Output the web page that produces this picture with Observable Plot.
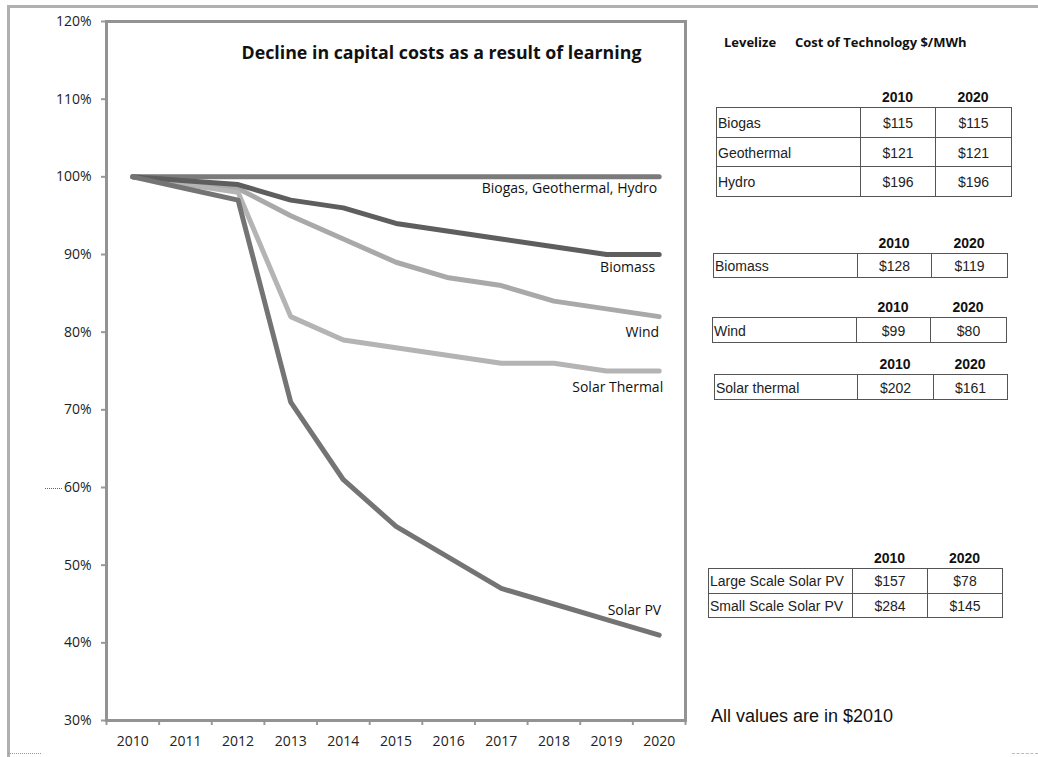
<!DOCTYPE html>
<html><head><meta charset="utf-8">
<script src="https://cdn.jsdelivr.net/npm/d3@7"></script>
<script src="https://cdn.jsdelivr.net/npm/@observablehq/plot@0.6"></script>
<style>
body{margin:0;background:#fff;}
#wrap{position:relative;width:1038px;height:757px;overflow:hidden;font-family:"Liberation Sans",Arial,sans-serif;color:#111;}
#wrap svg{position:absolute;left:0;top:0;}
.cell{position:absolute;box-sizing:border-box;border:1px solid #555;font-size:14px;white-space:nowrap;overflow:hidden;color:#222;}
.hdr{position:absolute;font-weight:bold;font-size:14px;text-align:center;color:#111;}
.deco{position:absolute;}
</style></head><body><div id="wrap"></div>
<script>
// ---- chart data ----
const years = [2010, 2011, 2012, 2013, 2014, 2015, 2016, 2017, 2018, 2019, 2020];
const seriesNames = ["Biogas, Geothermal, Hydro", "Wind", "Solar Thermal", "Biomass", "Solar PV"];
const biogasGeothermalHydro = [100, 100, 100, 100, 100, 100, 100, 100, 100, 100, 100];
const wind = [100, 99.3, 98.5, 95, 92, 89, 87, 86, 84, 83, 82];
const solarThermal = [100, 99, 98, 82, 79, 78, 77, 76, 76, 75, 75];
const biomass = [100, 99.5, 99, 97, 96, 94, 93, 92, 91, 90, 90];
const solarPV = [100, 98.5, 97, 71, 61, 55, 51, 47, 45, 43, 41];
const yTicks = [30, 40, 50, 60, 70, 80, 90, 100, 110, 120];
const chartTitle = "Decline in capital costs as a result of learning";

// ---- table data ----
const tableYears = ["2010", "2020"];
const techNames = ["Biogas", "Geothermal", "Hydro", "Biomass", "Wind", "Solar thermal", "Large Scale Solar PV", "Small Scale Solar PV"];
const cost2010 = ["$115", "$121", "$196", "$128", "$99", "$202", "$157", "$284"];
const cost2020 = ["$115", "$121", "$196", "$119", "$80", "$161", "$78", "$145"];
const panelTitleA = "Levelize";
const panelTitleB = "Cost of Technology $/MWh";
const footNote = "All values are in $2010";

// ---- styles ----
const seriesColors = ["#7b7b7b", "#a9a9a9", "#b4b4b4", "#5e5e5e", "#747474"];
const labelOffsets = {
  "Biogas, Geothermal, Hydro": {dx: -2, dy: 12},
  "Biomass": {dx: -4, dy: 13},
  "Wind": {dx: 0, dy: 16},
  "Solar Thermal": {dx: 4, dy: 17},
  "Solar PV": {dx: 2, dy: -25}
};

const seriesValues = [biogasGeothermalHydro, wind, solarThermal, biomass, solarPV];
const rows = [];
seriesNames.forEach((name, k) => years.forEach((yr, i) => rows.push({series: name, year: yr, value: seriesValues[k][i]})));
const lastPoints = seriesNames.map((name, k) => ({series: name, year: years[years.length - 1], value: seriesValues[k][years.length - 1]}));
const boundaries = years.map(y => y - 0.5).concat([years[years.length - 1] + 0.5]);

const chart = Plot.plot({
  width: 1038, height: 757,
  marginLeft: 106, marginRight: 353, marginTop: 21, marginBottom: 37,
  style: {fontFamily: "'Open Sans', sans-serif", fontSize: "14px", color: "#222", background: "transparent"},
  x: {domain: [boundaries[0], boundaries[boundaries.length - 1]]},
  y: {domain: [30, 120]},
  color: {domain: seriesNames, range: seriesColors},
  marks: [
    Plot.axisY({ticks: yTicks, tickFormat: d => d + "%", tickSize: 5, tickPadding: 10, stroke: "#999", strokeWidth: 2, fontSize: 14, label: null}),
    Plot.axisX({ticks: boundaries, tickSize: 5, tickFormat: () => "", stroke: "#999", strokeWidth: 2, label: null}),
    Plot.axisX({ticks: years, tickSize: 0, tickPadding: 16, tickFormat: d => String(d), fontSize: 14, label: null}),
    Plot.line(rows, {x: "year", y: "value", z: "series", stroke: "series", strokeWidth: 5, strokeLinejoin: "round"}),
    ...lastPoints.map(d => Plot.text([d], {x: "year", y: "value", text: "series", textAnchor: "end",
      dx: labelOffsets[d.series].dx, dy: labelOffsets[d.series].dy, fontSize: 14, fill: "#111"})),
    Plot.text([chartTitle], {frameAnchor: "top-left", dx: 135, dy: 25, textAnchor: "start", fontSize: 17.8, fontWeight: "bold", fill: "#111"}),
    Plot.frame({stroke: "#939393", strokeWidth: 3})
  ]
});

const wrap = document.getElementById("wrap");

// outer decorative border
function deco(style) { const d = document.createElement("div"); d.className = "deco"; d.style.cssText = style; wrap.appendChild(d); }
deco("left:7px;top:5px;width:1040px;height:0;border-top:3px solid #b0b0b0;");
deco("left:7px;top:5px;width:0;height:752px;border-left:3px solid #b0b0b0;");
deco("left:8px;top:753px;width:33px;height:0;border-top:1px dotted #999;");
deco("left:1012px;top:753px;width:26px;height:0;border-top:1px dashed #bbb;");
deco("left:45px;top:488px;width:17px;height:0;border-top:1px dotted #666;");

wrap.appendChild(chart);

// right panel
function text(str, left, top, css) { const d = document.createElement("div"); d.className = "deco"; d.textContent = str; d.style.cssText = `left:${left}px;top:${top}px;` + css; wrap.appendChild(d); }
text(panelTitleA, 724, 33, "font-family:'Open Sans',sans-serif;font-weight:bold;font-size:13px;color:#111;");
text(panelTitleB, 795, 33, "font-family:'Open Sans',sans-serif;font-weight:bold;font-size:13px;color:#111;");
text(footNote, 711, 706, "font-family:'Liberation Sans',Arial,sans-serif;font-size:18px;color:#111;");

function drawTable(left, top, widths, rowH, idx) {
  let x = left + widths[0];
  tableYears.forEach((yl, c) => {
    const h = document.createElement("div"); h.className = "hdr"; h.textContent = yl;
    h.style.cssText = `left:${x}px;top:${top - 19}px;width:${widths[c + 1]}px;height:18px;line-height:18px;`;
    wrap.appendChild(h);
    x += widths[c + 1];
  });
  idx.forEach((i, r) => {
    const vals = [techNames[i], cost2010[i], cost2020[i]];
    let cx = left;
    vals.forEach((v, c) => {
      const d = document.createElement("div"); d.className = "cell"; d.textContent = v;
      d.style.left = cx + "px"; d.style.top = (top + r * rowH) + "px";
      d.style.width = (widths[c] + 1) + "px"; d.style.height = (rowH + 1) + "px";
      d.style.lineHeight = (rowH + 1) + "px";
      if (c === 0) { d.style.paddingLeft = "1px"; } else { d.style.textAlign = "center"; }
      wrap.appendChild(d);
      cx += widths[c];
    });
  });
}
drawTable(716, 107, [144, 75, 76], 29.7, [0, 1, 2]);
drawTable(713, 253, [144, 74, 76], 24, [3]);
drawTable(712, 317, [144, 74, 76], 25, [4]);
drawTable(714, 374, [143, 76, 74], 25, [5]);
drawTable(708, 568, [144, 75, 75], 24.5, [6, 7]);
</script></body></html>
